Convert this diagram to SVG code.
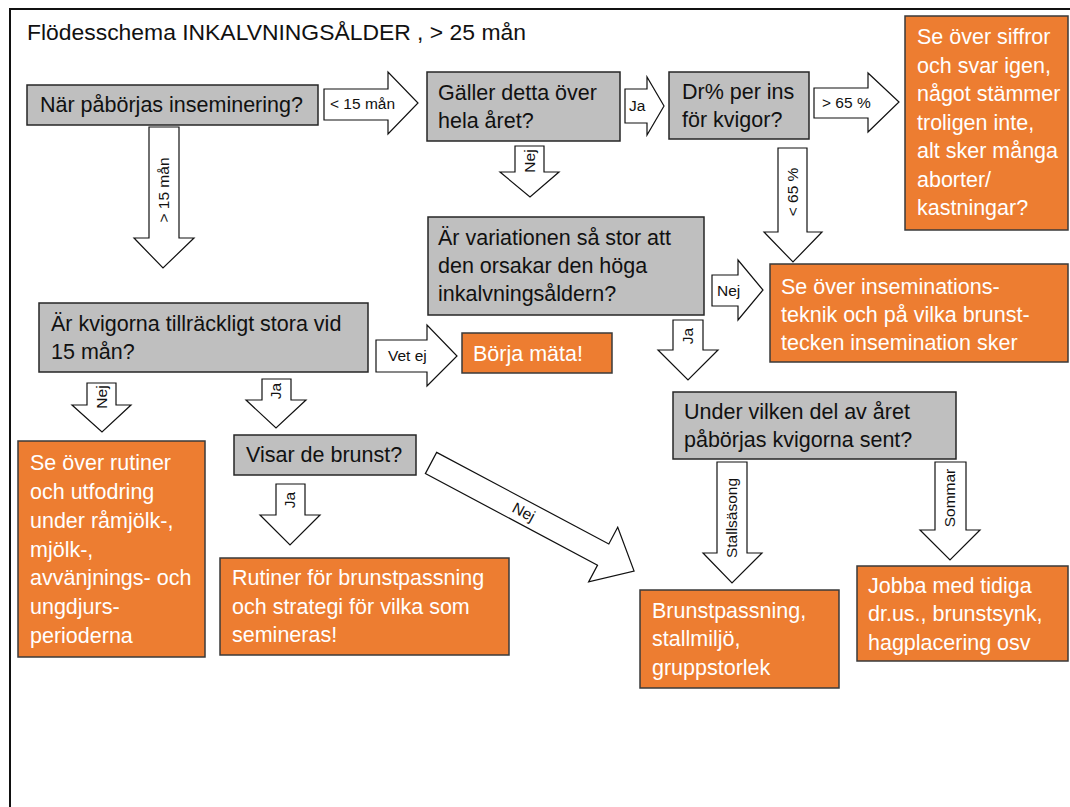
<svg xmlns="http://www.w3.org/2000/svg" width="1070" height="807" viewBox="0 0 1070 807">
<style>
text{font-family:"Liberation Sans",Arial,sans-serif}
.g{fill:#bfbfbf;stroke:#262626;stroke-width:1.5}
.o{fill:#ed7d31;stroke:#3a3a3a;stroke-width:1.5}
.t{font-size:21.5px;fill:#111}
.w{font-size:21.5px;fill:#fff}
.a{fill:#fff;stroke:#111;stroke-width:1.2;stroke-linejoin:miter}
.l{font-size:15.5px;fill:#111}
.lv{font-size:15.5px;fill:#111;text-anchor:middle}
</style>
<rect width="1070" height="807" fill="#fff"/>
<path d="M10,807 V9 H1070" fill="none" stroke="#111" stroke-width="2"/>
<text x="27" y="40" style="font-size:22.9px;fill:#111">Flödesschema INKALVNINGSÅLDER , &gt; 25 mån</text>

<g id="connectors">
<g id="c1"><polygon class="a" points="324,89 388,89 388,72 418,103 388,134 388,120 324,120"/><text class="l" x="330" y="109">&lt; 15 mån</text></g>
<g id="c2"><polygon class="a" points="625,89 647,89 647,77 664,106 647,135 647,123 625,123"/><text class="l" x="629" y="111">Ja</text></g>
<g id="c3"><polygon class="a" points="814,88 868,88 868,73 899,102 868,132 868,118 814,118"/><text class="l" x="822" y="108">&gt; 65 %</text></g>
<g id="c4"><polygon class="a" points="149,127 179,127 179,238 194,238 163,268 134,238 149,238"/><text class="lv" transform="translate(169,190) rotate(-90)">&gt; 15 mån</text></g>
<g id="c5"><polygon class="a" points="515,146 544,146 544,172 559,172 530,197 500,172 515,172"/><text class="lv" transform="translate(535,161) rotate(-90)">Nej</text></g>
<g id="c6"><polygon class="a" points="778,148 807,148 807,232 822,232 793,262 764,232 778,232"/><text class="lv" transform="translate(798,192) rotate(-90)">&lt; 65 %</text></g>
<g id="c7"><polygon class="a" points="712,275 738,275 738,260 763,290 738,320 738,306 712,306"/><text class="l" x="717" y="296">Nej</text></g>
<g id="c8"><polygon class="a" points="376,340 427,340 427,325 457,356 427,386 427,372 376,372"/><text class="l" x="388" y="361">Vet ej</text></g>
<g id="c9"><polygon class="a" points="673,320 703,320 703,350 718,350 688,380 658,350 673,350"/><text class="lv" transform="translate(693,336) rotate(-90)">Ja</text></g>
<g id="c10"><polygon class="a" points="87,383 116,383 116,405 131,405 102,432 72,405 87,405"/><text class="lv" transform="translate(107,397) rotate(-90)">Nej</text></g>
<g id="c11"><polygon class="a" points="262,379 291,379 291,400 306,400 276,428 246,400 262,400"/><text class="lv" transform="translate(281,391) rotate(-90)">Ja</text></g>
<g id="c12"><polygon class="a" points="276,484 305,484 305,515 320,515 290,545 260,515 276,515"/><text class="lv" transform="translate(295,500) rotate(-90)">Ja</text></g>
<g id="c13"><polygon class="a" points="717,462 747,462 747,553 762,553 732,583 703,553 717,553"/><text class="lv" transform="translate(737,518) rotate(-90)">Stallsäsong</text></g>
<g id="c14"><polygon class="a" points="935,462 966,462 966,530 980,530 950,560 920,530 935,530"/><text class="lv" transform="translate(955,498) rotate(-90)">Sommar</text></g>
<g id="c15" transform="translate(431,463) rotate(28)"><polygon class="a" points="0,-12 195,-12 195,-31 230,0 195,31 195,12 0,12"/><text class="lv" x="105" y="5">Nej</text></g>
</g>

<g id="n1"><rect class="g" x="27" y="85" width="291" height="40"/><text class="t" x="40" y="112">När påbörjas inseminering?</text></g>
<g id="n2"><rect class="g" x="427" y="72" width="193" height="69"/><text class="t" x="438" y="99.5">Gäller detta över</text><text class="t" x="438" y="128">hela året?</text></g>
<g id="n3"><rect class="g" x="669" y="72" width="140" height="67"/><text class="t" x="682" y="98.5">Dr% per ins</text><text class="t" x="682" y="127">för kvigor?</text></g>
<g id="n4"><rect class="o" x="905" y="16" width="163" height="214"/>
<text class="w" x="917" y="44">Se över siffror</text>
<text class="w" x="917" y="72.5">och svar igen,</text>
<text class="w" x="917" y="101">något stämmer</text>
<text class="w" x="917" y="129.5">troligen inte,</text>
<text class="w" x="917" y="158">alt sker många</text>
<text class="w" x="917" y="186.5">aborter/</text>
<text class="w" x="917" y="215">kastningar?</text></g>
<g id="n5"><rect class="g" x="428" y="217" width="276" height="98"/><text class="t" x="438" y="245">Är variationen så stor att</text><text class="t" x="438" y="273">den orsakar den höga</text><text class="t" x="438" y="301">inkalvningsåldern?</text></g>
<g id="n6"><rect class="o" x="770" y="264" width="298" height="98"/><text class="w" x="781" y="294">Se över inseminations-</text><text class="w" x="781" y="322">teknik och på vilka brunst-</text><text class="w" x="781" y="350">tecken insemination sker</text></g>
<g id="n7"><rect class="g" x="39" y="303" width="329" height="69"/><text class="t" x="51" y="331">Är kvigorna tillräckligt stora vid</text><text class="t" x="51" y="359">15 mån?</text></g>
<g id="n8"><rect class="o" x="462" y="333" width="150" height="40"/><text class="w" x="473" y="361">Börja mäta!</text></g>
<g id="n9"><rect class="g" x="673" y="392" width="283" height="67"/><text class="t" x="684" y="419">Under vilken del av året</text><text class="t" x="684" y="447">påbörjas kvigorna sent?</text></g>
<g id="n10"><rect class="o" x="18" y="441" width="187" height="216"/>
<text class="w" x="30" y="470.4">Se över rutiner</text>
<text class="w" x="30" y="499.1">och utfodring</text>
<text class="w" x="30" y="527.8">under råmjölk-,</text>
<text class="w" x="30" y="556.5">mjölk-,</text>
<text class="w" x="30" y="585.2">avvänjnings- och</text>
<text class="w" x="30" y="613.9">ungdjurs-</text>
<text class="w" x="30" y="642.6">perioderna</text></g>
<g id="n11"><rect class="g" x="234" y="435" width="182" height="40"/><text class="t" x="246" y="462">Visar de brunst?</text></g>
<g id="n12"><rect class="o" x="220" y="558" width="289" height="97"/><text class="w" x="232" y="585">Rutiner för brunstpassning</text><text class="w" x="232" y="614">och strategi för vilka som</text><text class="w" x="232" y="642">semineras!</text></g>
<g id="n13"><rect class="o" x="640" y="590" width="199" height="98"/><text class="w" x="652" y="618">Brunstpassning,</text><text class="w" x="652" y="646">stallmiljö,</text><text class="w" x="652" y="675">gruppstorlek</text></g>
<g id="n14"><rect class="o" x="857" y="566" width="211" height="95"/><text class="w" x="868" y="593">Jobba med tidiga</text><text class="w" x="868" y="621">dr.us., brunstsynk,</text><text class="w" x="868" y="650">hagplacering osv</text></g>
</svg>
